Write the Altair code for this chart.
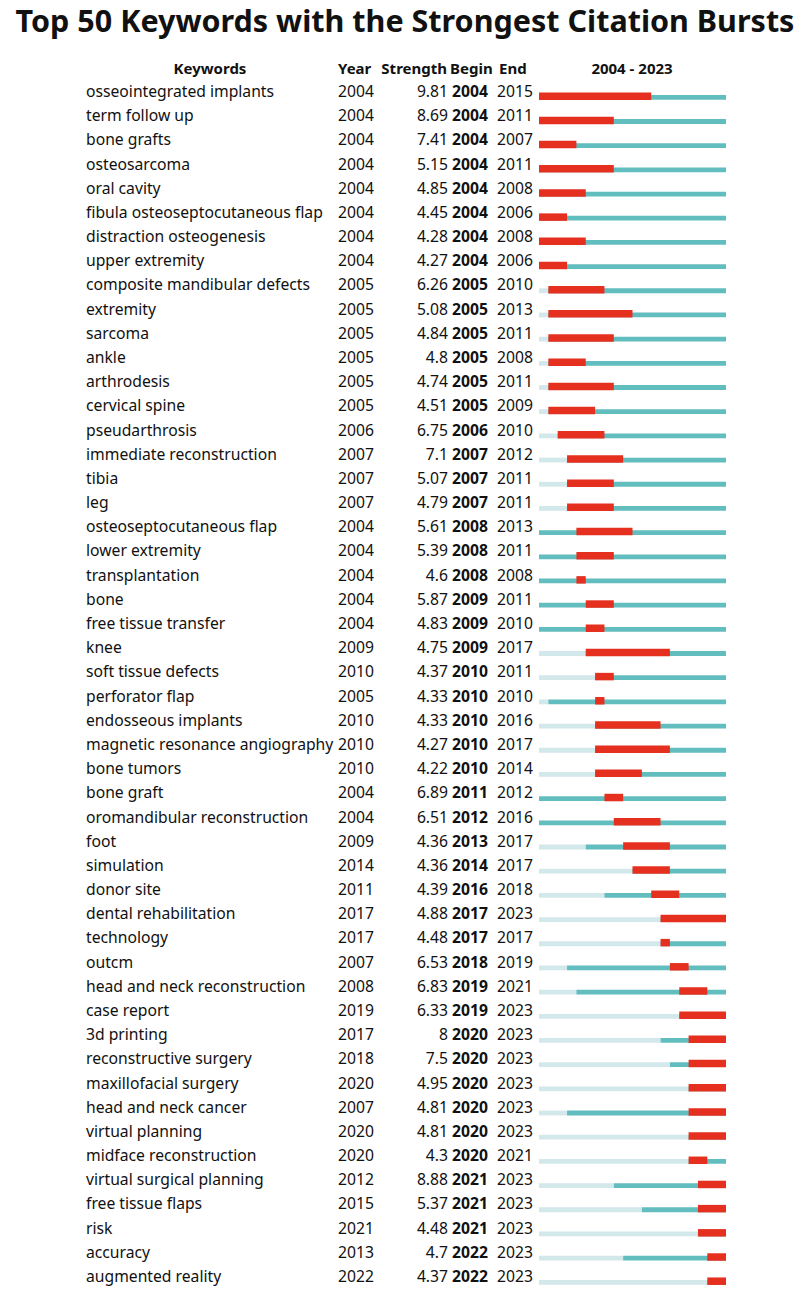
import altair as alt
import pandas as pd

keywords = ["osseointegrated implants", "term follow up", "bone grafts", "osteosarcoma", "oral cavity",
            "fibula osteoseptocutaneous flap", "distraction osteogenesis", "upper extremity",
            "composite mandibular defects", "extremity", "sarcoma", "ankle", "arthrodesis", "cervical spine",
            "pseudarthrosis", "immediate reconstruction", "tibia", "leg", "osteoseptocutaneous flap",
            "lower extremity", "transplantation", "bone", "free tissue transfer", "knee", "soft tissue defects",
            "perforator flap", "endosseous implants", "magnetic resonance angiography", "bone tumors",
            "bone graft", "oromandibular reconstruction", "foot", "simulation", "donor site",
            "dental rehabilitation", "technology", "outcm", "head and neck reconstruction", "case report",
            "3d printing", "reconstructive surgery", "maxillofacial surgery", "head and neck cancer",
            "virtual planning", "midface reconstruction", "virtual surgical planning", "free tissue flaps",
            "risk", "accuracy", "augmented reality"]
years = [2004, 2004, 2004, 2004, 2004, 2004, 2004, 2004, 2005, 2005, 2005, 2005, 2005, 2005, 2006, 2007,
         2007, 2007, 2004, 2004, 2004, 2004, 2004, 2009, 2010, 2005, 2010, 2010, 2010, 2004, 2004, 2009,
         2014, 2011, 2017, 2017, 2007, 2008, 2019, 2017, 2018, 2020, 2007, 2020, 2020, 2012, 2015, 2021,
         2013, 2022]
strengths = [9.81, 8.69, 7.41, 5.15, 4.85, 4.45, 4.28, 4.27, 6.26, 5.08, 4.84, 4.8, 4.74, 4.51, 6.75, 7.1,
             5.07, 4.79, 5.61, 5.39, 4.6, 5.87, 4.83, 4.75, 4.37, 4.33, 4.33, 4.27, 4.22, 6.89, 6.51, 4.36,
             4.36, 4.39, 4.88, 4.48, 6.53, 6.83, 6.33, 8, 7.5, 4.95, 4.81, 4.81, 4.3, 8.88, 5.37, 4.48,
             4.7, 4.37]
begins = [2004, 2004, 2004, 2004, 2004, 2004, 2004, 2004, 2005, 2005, 2005, 2005, 2005, 2005, 2006, 2007,
          2007, 2007, 2008, 2008, 2008, 2009, 2009, 2009, 2010, 2010, 2010, 2010, 2010, 2011, 2012, 2013,
          2014, 2016, 2017, 2017, 2018, 2019, 2019, 2020, 2020, 2020, 2020, 2020, 2020, 2021, 2021, 2021,
          2022, 2022]
ends = [2015, 2011, 2007, 2011, 2008, 2006, 2008, 2006, 2010, 2013, 2011, 2008, 2011, 2009, 2010, 2012,
        2011, 2011, 2013, 2011, 2008, 2011, 2010, 2017, 2011, 2010, 2016, 2017, 2014, 2012, 2016, 2017,
        2017, 2018, 2023, 2017, 2019, 2021, 2023, 2023, 2023, 2023, 2023, 2023, 2021, 2023, 2023, 2023,
        2023, 2023]

START, STOP = 2004, 2023

df = pd.DataFrame({
    "idx": range(len(keywords)),
    "keyword": keywords,
    "year": years,
    "strength": strengths,
    "begin": begins,
    "end": ends,
})
df["start"] = START
df["stop"] = STOP + 1
df["end1"] = df["end"] + 1

FONT = "Noto Sans"
FS = 15.7
yscale = alt.Scale(domain=[0, len(keywords) - 1], range=[89, 1274])
xscale = alt.Scale(domain=[START, STOP + 1], range=[531, 718])
Y = alt.Y("idx:Q", scale=yscale, axis=None)

base = alt.Chart(df)

def col(field, xpos, align="left", bold=False):
    return base.mark_text(align=align, baseline="alphabetic", font=FONT, fontSize=FS,
                          fontWeight="bold" if bold else "normal", color="#111").encode(
        x=alt.value(xpos), y=Y, text=field)

kw = col("keyword:N", 78)
yr = col("year:Q", 330)
st = col("strength:Q", 440, align="right")
bg = col("begin:Q", 444, bold=True)
en = col("end:Q", 489)

light = base.mark_rule(strokeWidth=4.8, color="#d3e8eb", yOffset=0.3).encode(
    x=alt.X("start:Q", scale=xscale, axis=None), x2="year:Q", y=Y)
teal = base.mark_rule(strokeWidth=4.8, color="#62bdbf", yOffset=0.3).encode(
    x=alt.X("year:Q", scale=xscale, axis=None), x2="stop:Q", y=Y)
red = base.mark_rule(strokeWidth=7.5, color="#e5301f", yOffset=-0.8).encode(
    x=alt.X("begin:Q", scale=xscale, axis=None), x2="end1:Q", y=Y)

def label(txt, xpos, ypos, align="center", size=15, bold=True, baseline="middle"):
    return alt.Chart(pd.DataFrame({"t": [txt]})).mark_text(
        align=align, baseline=baseline, font=FONT, fontSize=size,
        fontWeight="bold" if bold else "normal", color="#111").encode(
        x=alt.value(xpos), y=alt.value(ypos), text="t:N")

title = label("Top 50 Keywords with the Strongest Citation Bursts", 397, 24, size=30.5,
              baseline="alphabetic")
headers = [
    label("Keywords", 202, 61),
    label("Year", 330, 61, align="left"),
    label("Strength", 439, 61, align="right"),
    label("Begin", 442, 61, align="left"),
    label("End", 491, 61, align="left"),
    label("2004 - 2023", 624, 61),
]

chart = alt.layer(light, teal, red, kw, yr, st, bg, en, title, *headers).properties(
    width=794, height=1279, padding=0, autosize=alt.AutoSizeParams(type="none")
).configure_view(stroke=None)

chart.save("out.html", embed_options={"renderer": "svg", "actions": False})
